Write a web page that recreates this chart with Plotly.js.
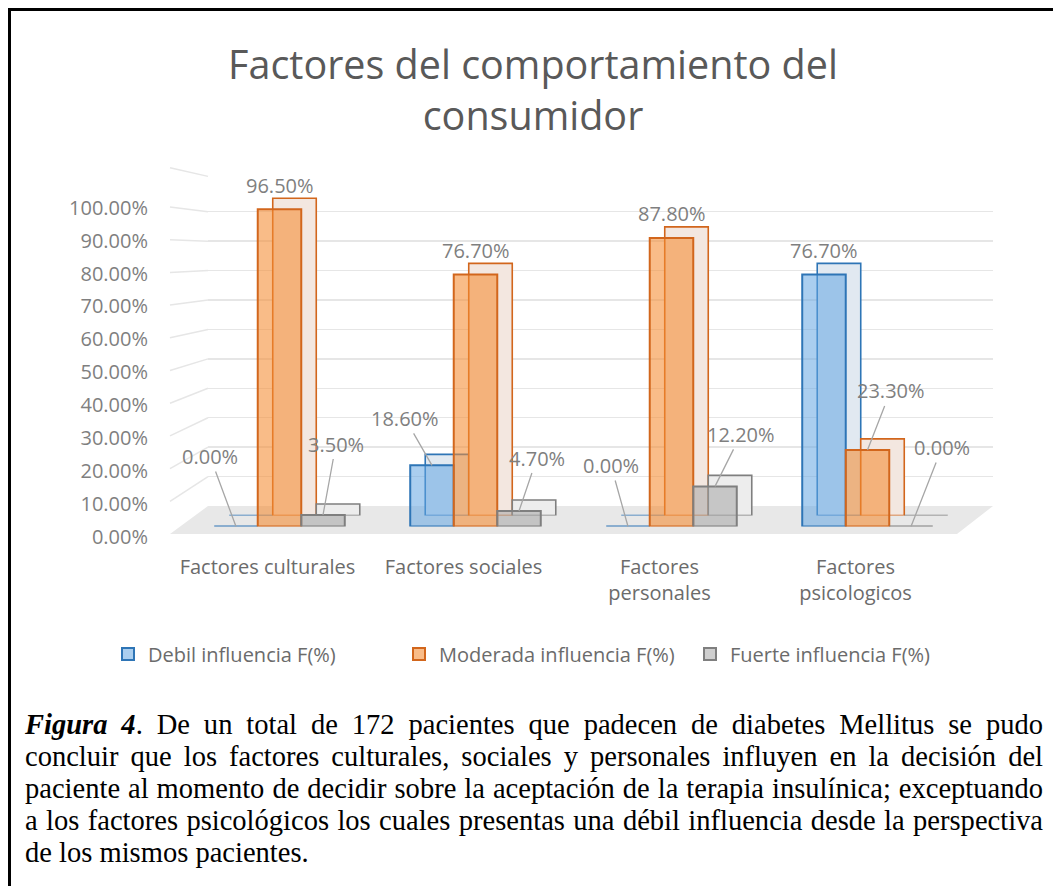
<!DOCTYPE html>
<html>
<head>
<meta charset="utf-8">
<script src="https://cdn.plot.ly/plotly-3.0.1.min.js"></script>
<style>
  html, body { margin:0; padding:0; background:#fff; }
  #wrap { position:relative; width:1053px; height:886px; overflow:hidden; }
  #chart { position:absolute; left:0; top:0; width:1053px; height:886px; }
  #frame { position:absolute; left:8px; top:8px; right:-10px; bottom:-10px;
           border-left:3px solid #000; border-top:3px solid #000; pointer-events:none; }
  #cap { position:absolute; left:25px; top:709px; width:1018px;
         font-family:'Liberation Serif','Times New Roman','DejaVu Serif',serif; font-size:26px;
         line-height:32px; color:#000; }
  #cap div { white-space:nowrap; text-align:left; }
  #cap div.j { text-align:justify; text-align-last:justify; }
</style>
</head>
<body>
<div id="wrap">
  <div id="chart"></div>
  <div id="frame"></div>
  <div id="cap"></div>
</div>
<script>
// ---------------- data ----------------
const categories = ['Factores culturales', 'Factores sociales', 'Factores personales', 'Factores psicologicos'];
const categoryLabels = ['Factores culturales', 'Factores sociales', 'Factores<br>personales', 'Factores<br>psicologicos'];
const seriesNames = ['Debil influencia F(%)', 'Moderada influencia F(%)', 'Fuerte influencia F(%)'];
const debil = [0.0, 18.6, 0.0, 76.7];
const moderada = [96.5, 76.7, 87.8, 23.3];
const fuerte = [3.5, 4.7, 12.2, 0.0];
const yTicks = [0, 10, 20, 30, 40, 50, 60, 70, 80, 90, 100];
const chartTitle = 'Factores del comportamiento del<br>consumidor';
const captionLines = [
  '<b><i>Figura 4</i></b>. De un total de 172 pacientes que padecen de diabetes Mellitus se pudo',
  'concluir que los factores culturales, sociales y personales influyen en la decisión del',
  'paciente al momento de decidir sobre la aceptación de la terapia insulínica; exceptuando',
  'a los factores psicológicos los cuales presentas una débil influencia desde la perspectiva',
  'de los mismos pacientes.'
];

// ---------------- styles ----------------
const W = 1053, H = 886;
const px = x => x / W, py = y => 1 - y / H;
const edgeColors = ['#2e75b6', '#d2661c', '#7f7f7f'];
const frontFill = ['rgba(100,165,225,0.55)', 'rgba(245,140,50,0.58)', 'rgba(160,160,160,0.5)'];
const backFill = ['#e1e9f1', '#f3e7e0', '#ededed'];
const barShift = [-43.5, 0, 43.5];
// label offsets (pixels) per series / category: [dx, dy, arrow?]
const labelStyle = [
  [[-26, -70, 1], [-27, -47, 1], [-17, -61, 1], [0, -24, 0]],
  [[0, -24, 0], [0, -24, 0], [0, -24, 0], [23, -59, 1]],
  [[13, -71, 1], [18, -53, 1], [26, -52, 1], [31, -79, 1]]
];
const series = [debil, moderada, fuerte];
const txtFont = 'Open Sans, Noto Sans, sans-serif';

// ---------------- caption (justified, fitted to the box width) ----------------
const cap = document.getElementById('cap');
cap.innerHTML = captionLines.map(t => '<div><span>' + t + '</span></div>').join('');
(function fitCaption() {
  let maxW = 0;
  cap.querySelectorAll('span').forEach(s => { maxW = Math.max(maxW, s.getBoundingClientRect().width); });
  const base = 26;
  const size = Math.min(32, base * 1008 / maxW);
  cap.style.fontSize = size.toFixed(2) + 'px';
  const divs = cap.querySelectorAll('div');
  divs.forEach((d, i) => { if (i < divs.length - 1) d.className = 'j'; });
})();

// ---------------- traces ----------------
const traces = [];
traces.push({type: 'scatter', x: [], y: [], xaxis: 'x', yaxis: 'y', showlegend: false, hoverinfo: 'skip'});
series.forEach((vals, i) => {
  traces.push({
    type: 'bar', x: categories, y: vals, xaxis: 'x2', yaxis: 'y2',
    marker: {color: backFill[i], line: {color: edgeColors[i], width: 1.6}},
    showlegend: false, hoverinfo: 'skip'
  });
});
series.forEach((vals, i) => {
  traces.push({
    type: 'bar', x: categories, y: vals, xaxis: 'x3', yaxis: 'y3', name: seriesNames[i],
    marker: {color: frontFill[i], line: {color: edgeColors[i], width: 2}},
    hoverinfo: 'skip'
  });
});

// ---------------- annotations (data labels) ----------------
const annotations = [];
series.forEach((vals, i) => {
  vals.forEach((v, c) => {
    const st = labelStyle[i][c];
    const a = {
      xref: 'x3', yref: 'y3', x: categories[c], y: v, xshift: barShift[i],
      text: v.toFixed(2) + '%', font: {family: txtFont, size: 20, color: '#7f7f7f'}
    };
    if (st[2]) {
      Object.assign(a, {showarrow: true, arrowhead: 0, arrowwidth: 1.3, arrowcolor: '#a6a6a6',
        ax: st[0], ay: st[1], standoff: 0, xanchor: 'center', yanchor: 'middle'});
    } else {
      Object.assign(a, {showarrow: false, yshift: -st[1], xanchor: 'center', yanchor: 'middle'});
    }
    annotations.push(a);
  });
});

// ---------------- decorative floor & wall ----------------
const shapes = [];
shapes.push({
  type: 'path', xref: 'paper', yref: 'paper', layer: 'below',
  path: 'M' + px(170) + ',' + py(534) + ' L' + px(957) + ',' + py(534) + ' L' + px(993) + ',' + py(506) +
        ' L' + px(208) + ',' + py(506) + ' Z',
  fillcolor: '#e8e8e8', line: {width: 0}
});
const wallTicks = yTicks.concat([112]);
wallTicks.forEach(v => {
  if (v === 0) return;
  shapes.push({
    type: 'line', xref: 'paper', yref: 'paper', layer: 'below',
    x0: px(170), y0: py(534 - 3.27 * v), x1: px(208), y1: py(506 - 2.943 * v),
    line: {color: '#e6e6e6', width: 1.5}
  });
});

// ---------------- layout ----------------
const hidden = {showgrid: false, zeroline: false, showline: false, showticklabels: false, ticks: '', fixedrange: true};
const layout = {
  width: W, height: H,
  margin: {l: 0, r: 0, t: 0, b: 0, pad: 0},
  paper_bgcolor: '#ffffff', plot_bgcolor: 'rgba(0,0,0,0)',
  hovermode: false,
  barmode: 'group', bargap: 0.334, bargroupgap: 0,
  title: {
    text: chartTitle, x: px(533), xanchor: 'center', xref: 'paper',
    y: py(79), yanchor: 'top', yref: 'paper',
    font: {family: txtFont, size: 39.5, color: '#595959'}
  },
  xaxis: Object.assign({}, hidden, {domain: [px(208), px(993)], range: [0, 1], anchor: 'y'}),
  yaxis: Object.assign({}, hidden, {
    domain: [py(506), py(506 - 112 * 2.943)], range: [0, 112], anchor: 'x',
    showgrid: true, gridcolor: '#e6e6e6', gridwidth: 1.5,
    tickmode: 'array', tickvals: wallTicks.filter(v => v > 0)
  }),
  xaxis2: Object.assign({}, hidden, {domain: [px(181.5 + 15), px(965.5 + 15)], type: 'category',
    range: [-0.5, 3.5], anchor: 'y2'}),
  yaxis2: Object.assign({}, hidden, {domain: [py(526.5 - 11), py(197.8 - 11)], range: [0, 100], anchor: 'x2'}),
  xaxis3: Object.assign({}, hidden, {domain: [px(181.5), px(965.5)], type: 'category',
    range: [-0.5, 3.5], anchor: 'y3',
    showticklabels: true, tickmode: 'array', tickvals: categories, ticktext: categoryLabels,
    ticklabelshift: -12, ticklabelstandoff: 26,
    tickfont: {family: txtFont, size: 20, color: '#6b6b6b'}}),
  yaxis3: Object.assign({}, hidden, {domain: [py(526.5), py(197.8)], range: [0, 100],
    anchor: 'free', position: px(148),
    showticklabels: true, tickmode: 'array', tickvals: yTicks,
    ticktext: yTicks.map(v => v.toFixed(2) + '%'),
    ticklabelshift: 10,
    tickfont: {family: txtFont, size: 20, color: '#7f7f7f'}}),
  legend: {
    orientation: 'h', x: px(108), xanchor: 'left', y: py(654), yanchor: 'middle',
    font: {family: txtFont, size: 20, color: '#6b6b6b'},
    entrywidth: 246, entrywidthmode: 'pixels', itemwidth: 30,
    bgcolor: 'rgba(0,0,0,0)', traceorder: 'normal'
  },
  shapes: shapes,
  annotations: annotations
};

Plotly.newPlot('chart', traces, layout, {displayModeBar: false, staticPlot: true});
</script>
</body>
</html>
